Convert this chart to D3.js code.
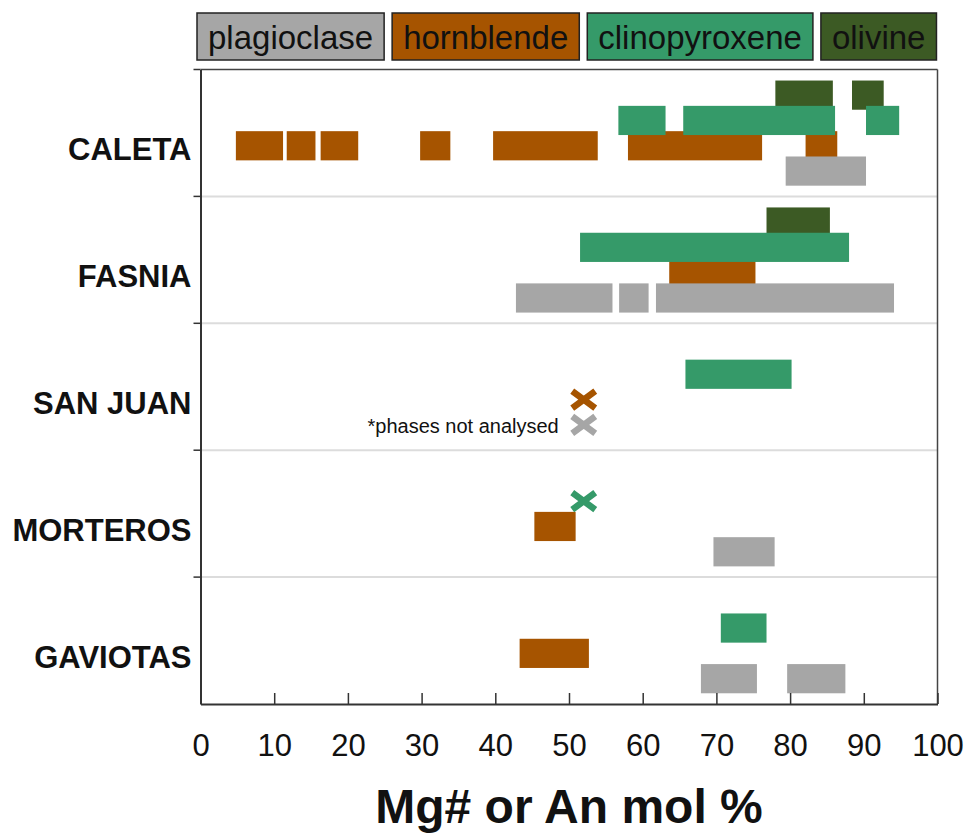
<!DOCTYPE html>
<html><head><meta charset="utf-8">
<script src="https://cdn.jsdelivr.net/npm/d3@7"></script>
<style>body{margin:0;background:#fff} svg{display:block}</style>
</head><body>
<svg id="chart" width="970" height="833"></svg>
<script>
// ---------- data ----------
const sites = ["CALETA", "FASNIA", "SAN JUAN", "MORTEROS", "GAVIOTAS"];
const minerals = ["plagioclase", "hornblende", "clinopyroxene", "olivine"];
const rowOrder = ["olivine", "clinopyroxene", "hornblende", "plagioclase"];
const drawOrder = ["olivine", "hornblende", "clinopyroxene", "plagioclase"];
const xTicks = [0, 10, 20, 30, 40, 50, 60, 70, 80, 90, 100];
const xTitle = "Mg# or An mol %";
const noteText = "*phases not analysed";

// [site, from, to]  (Mg# or An mol %)
const plagioclase = [
  ["CALETA", 79.4, 90.3],
  ["FASNIA", 42.8, 55.9], ["FASNIA", 56.8, 60.8], ["FASNIA", 61.8, 94.1],
  ["MORTEROS", 69.6, 77.9],
  ["GAVIOTAS", 67.9, 75.5], ["GAVIOTAS", 79.6, 87.5]
];
const hornblende = [
  ["CALETA", 4.8, 11.2], ["CALETA", 11.7, 15.6], ["CALETA", 16.3, 21.4],
  ["CALETA", 29.8, 33.9], ["CALETA", 39.7, 53.9], ["CALETA", 58.0, 76.2],
  ["CALETA", 82.1, 86.4],
  ["FASNIA", 63.6, 75.3],
  ["MORTEROS", 45.3, 50.9],
  ["GAVIOTAS", 43.3, 52.7]
];
const clinopyroxene = [
  ["CALETA", 56.7, 63.1], ["CALETA", 65.5, 86.1], ["CALETA", 90.3, 94.8],
  ["FASNIA", 51.5, 88.0],
  ["SAN JUAN", 65.8, 80.2],
  ["GAVIOTAS", 70.6, 76.8]
];
const olivine = [
  ["CALETA", 78.0, 85.8], ["CALETA", 88.4, 92.7],
  ["FASNIA", 76.8, 85.4]
];
// phases present but not analysed: [site, mineral, value]
const notAnalysed = [
  ["SAN JUAN", "hornblende", 52],
  ["SAN JUAN", "plagioclase", 52],
  ["MORTEROS", "clinopyroxene", 52]
];

const colors = {
  plagioclase: "#a6a6a6",
  hornblende: "#a65400",
  clinopyroxene: "#359a69",
  olivine: "#3c5a24"
};
const ranges = { plagioclase, hornblende, clinopyroxene, olivine };

// ---------- layout ----------
const svg = d3.select("#chart");
const plotL = 200.5, plotR = 937.5, plotT = 69.5, plotB = 704;
const font = "'Liberation Sans', Arial, Helvetica, sans-serif";

const x = d3.scaleLinear().domain([0, 100]).range([plotL, plotR]);
const y = d3.scaleBand().domain(sites).range([plotT, plotB]);
const bw = y.bandwidth();
const row = d3.scaleBand().domain(rowOrder).range([bw * 0.087, bw * 0.885]);
const barH = bw * 0.23;

// separators between sites
svg.append("g").selectAll("line").data(sites.slice(1)).join("line")
  .attr("x1", plotL).attr("x2", plotR)
  .attr("y1", d => y(d)).attr("y2", d => y(d))
  .attr("stroke", "#dcdcdc").attr("stroke-width", 2);

// bars
const barsG = svg.append("g");
drawOrder.forEach(m => {
  barsG.append("g").selectAll("rect").data(ranges[m]).join("rect")
    .attr("x", d => x(d[1]))
    .attr("width", d => x(d[2]) - x(d[1]))
    .attr("y", d => y(d[0]) + row(m))
    .attr("height", barH)
    .attr("fill", colors[m]);
});

// X marks (not analysed)
const xs = svg.append("g");
xs.selectAll("path").data(notAnalysed).join("path")
  .attr("transform", d => `translate(${x(d[2])},${y(d[0]) + row(d[1]) + barH / 2})`)
  .attr("d", "M-11.5,-8.5L11.5,8.5M-11.5,8.5L11.5,-8.5")
  .attr("stroke", d => colors[d[1]])
  .attr("stroke-width", 6.5)
  .attr("fill", "none");

const noteMark = notAnalysed.find(d => d[1] === "plagioclase");
svg.append("text")
  .attr("x", x(noteMark[2]) - 25)
  .attr("y", y(noteMark[0]) + row(noteMark[1]) + barH / 2 + 8)
  .attr("text-anchor", "end")
  .attr("font-family", font).attr("font-size", 20).attr("fill", "#111")
  .text(noteText);

// frame (top & right)
svg.append("line").attr("x1", plotL).attr("x2", plotR).attr("y1", plotT).attr("y2", plotT)
  .attr("stroke", "#444").attr("stroke-width", 1.5);
svg.append("line").attr("x1", plotR).attr("x2", plotR).attr("y1", plotT).attr("y2", plotB)
  .attr("stroke", "#444").attr("stroke-width", 1.5);

// bottom axis
const xAxis = svg.append("g").attr("transform", `translate(0,${plotB})`)
  .call(d3.axisBottom(x).tickValues(xTicks).tickFormat(d3.format("d"))
    .tickSizeInner(-11).tickSizeOuter(0).tickPadding(30));
xAxis.select(".domain").attr("stroke", "#333").attr("stroke-width", 2);
xAxis.selectAll(".tick line").attr("stroke", "#333").attr("stroke-width", 1.5);
xAxis.selectAll(".tick text").attr("font-family", font).attr("font-size", 31).attr("fill", "#111");

// left axis: boundary ticks + site labels
const yAxis = svg.append("g").attr("transform", `translate(${plotL},0)`)
  .call(d3.axisLeft(y).tickSize(0).tickPadding(9));
yAxis.select(".domain").attr("stroke", "#333").attr("stroke-width", 2);
yAxis.selectAll(".tick text")
  .attr("font-family", font).attr("font-size", 31).attr("font-weight", "bold").attr("fill", "#111")
  .attr("dy", bw * 0.126 + 11);
svg.append("g").selectAll("line").data(sites).join("line")
  .attr("x1", plotL - 7).attr("x2", plotL)
  .attr("y1", d => y(d)).attr("y2", d => y(d))
  .attr("stroke", "#333").attr("stroke-width", 1.5);

// x title
svg.append("text")
  .attr("x", (plotL + plotR) / 2).attr("y", 823)
  .attr("text-anchor", "middle")
  .attr("font-family", font).attr("font-size", 48).attr("font-weight", "bold").attr("fill", "#111")
  .text(xTitle);

// legend
const legend = svg.append("g");
const pad = 11, gap = 8, ly = 13, lh = 47;
let cx = 197;
minerals.forEach(m => {
  const g = legend.append("g");
  const t = g.append("text")
    .attr("font-family", font).attr("font-size", 33).attr("fill", "#111")
    .attr("y", ly + 36)
    .text(m);
  const w = t.node().getComputedTextLength();
  g.insert("rect", "text")
    .attr("x", cx).attr("y", ly).attr("width", w + 2 * pad).attr("height", lh)
    .attr("fill", colors[m]).attr("stroke", "#222").attr("stroke-width", 1.5);
  t.attr("x", cx + pad);
  cx += w + 2 * pad + gap;
});
</script>
</body></html>
